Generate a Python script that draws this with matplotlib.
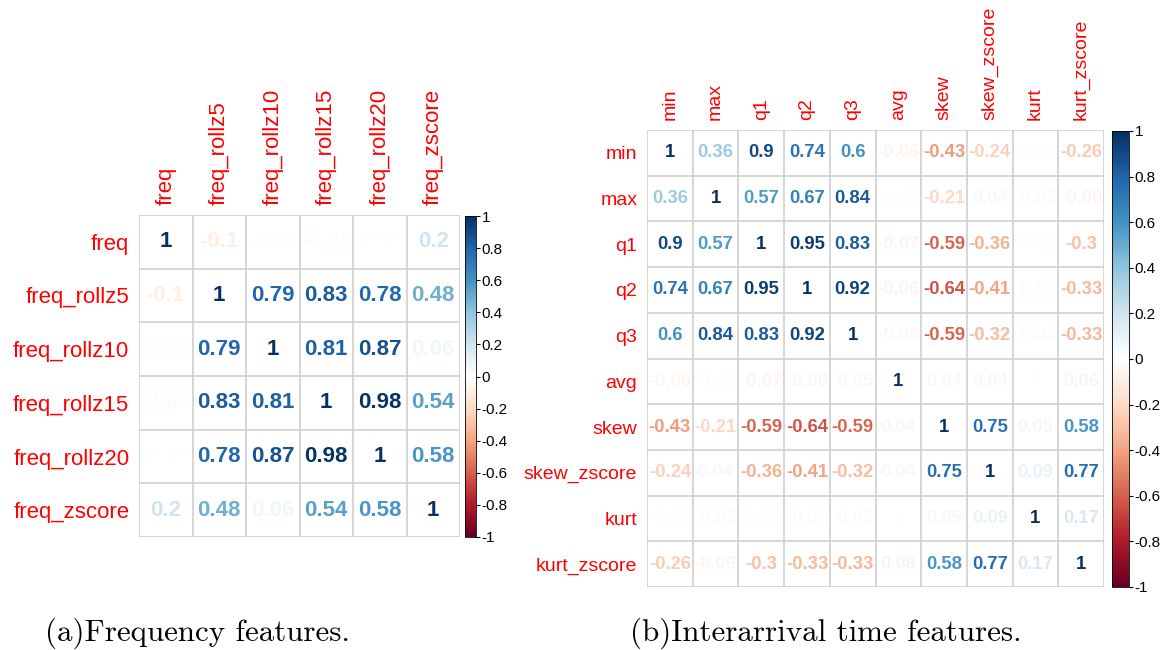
import numpy as np
import matplotlib
matplotlib.use("Agg")
import matplotlib.pyplot as plt
from matplotlib.colors import LinearSegmentedColormap, Normalize
from matplotlib.colorbar import ColorbarBase

# Frequency feature correlations
freq_labels = ["freq", "freq_rollz5", "freq_rollz10", "freq_rollz15",
               "freq_rollz20", "freq_zscore"]
freq_corr = [
    [1, -0.1, -0.02, -0.03, -0.01, 0.2],
    [-0.1, 1, 0.79, 0.83, 0.78, 0.48],
    [-0.02, 0.79, 1, 0.81, 0.87, 0.06],
    [-0.03, 0.83, 0.81, 1, 0.98, 0.54],
    [-0.01, 0.78, 0.87, 0.98, 1, 0.58],
    [0.2, 0.48, 0.06, 0.54, 0.58, 1],
]

# Interarrival time feature correlations
iat_labels = ["min", "max", "q1", "q2", "q3", "avg", "skew", "skew_zscore",
              "kurt", "kurt_zscore"]
iat_corr = [
    [1, 0.36, 0.9, 0.74, 0.6, -0.06, -0.43, -0.24, -0.02, -0.26],
    [0.36, 1, 0.57, 0.67, 0.84, -0.02, -0.21, 0.04, -0.03, -0.06],
    [0.9, 0.57, 1, 0.95, 0.83, -0.07, -0.59, -0.36, -0.02, -0.3],
    [0.74, 0.67, 0.95, 1, 0.92, -0.06, -0.64, -0.41, -0.03, -0.33],
    [0.6, 0.84, 0.83, 0.92, 1, -0.05, -0.59, -0.32, -0.03, -0.33],
    [-0.06, -0.02, -0.07, -0.06, -0.05, 1, 0.04, 0.04, 0, 0.06],
    [-0.43, -0.21, -0.59, -0.64, -0.59, 0.04, 1, 0.75, 0.05, 0.58],
    [-0.24, 0.04, -0.36, -0.41, -0.32, 0.04, 0.75, 1, 0.09, 0.77],
    [-0.02, -0.03, -0.02, -0.03, -0.03, 0, 0.05, 0.09, 1, 0.17],
    [-0.26, -0.06, -0.3, -0.33, -0.33, 0.06, 0.58, 0.77, 0.17, 1],
]

cbar_ticks = [-1, -0.8, -0.6, -0.4, -0.2, 0, 0.2, 0.4, 0.6, 0.8, 1]
captions = ["(a)Frequency features.", "(b)Interarrival time features."]

rdbu = LinearSegmentedColormap.from_list(
    "corr_rdbu",
    ["#67001F", "#B2182B", "#D6604D", "#F4A582", "#FDDBC7", "#FFFFFF",
     "#D1E5F0", "#92C5DE", "#4393C3", "#2166AC", "#053061"], N=200)
norm = Normalize(-1, 1)

W, H = 1171, 650
fig = plt.figure(figsize=(W / 100, H / 100), dpi=100)


def px_axes(x0, y0, x1, y1):
    return fig.add_axes([x0 / W, 1 - y1 / H, (x1 - x0) / W, (y1 - y0) / H])


def corr_panel(box, cbox, labels, corr, num_size, lab_size):
    ax = px_axes(*box)
    n = len(labels)
    m = np.array(corr, dtype=float)
    ax.set_xlim(-0.5, n - 0.5)
    ax.set_ylim(n - 0.5, -0.5)
    for i in range(n):
        for j in range(n):
            v = m[i, j]
            ax.text(j, i, f"{v:g}", ha="center", va="center",
                    fontsize=num_size, fontweight="bold",
                    family="Liberation Sans", color=rdbu(norm(v)))
    for k in range(n + 1):
        ax.axhline(k - 0.5, color="#CFCFCF", lw=1.2, zorder=0)
        ax.axvline(k - 0.5, color="#CFCFCF", lw=1.2, zorder=0)
    for s in ax.spines.values():
        s.set_visible(False)
    ax.set_xticks(range(n))
    ax.set_xticklabels(labels, rotation=90, color="red",
                       fontsize=lab_size, family="Liberation Sans")
    ax.xaxis.tick_top()
    ax.set_yticks(range(n))
    ax.set_yticklabels(labels, color="red", fontsize=lab_size,
                       family="Liberation Sans")
    ax.tick_params(length=0, pad=7)

    cax = px_axes(*cbox)
    cb = ColorbarBase(cax, cmap=rdbu, norm=norm, orientation="vertical",
                      ticks=cbar_ticks)
    cb.outline.set_linewidth(0.6)
    cb.ax.set_yticklabels([f"{t:g}" for t in cbar_ticks])
    cax.tick_params(labelsize=11, length=3, width=0.8, pad=1)
    for t in cax.get_yticklabels():
        t.set_family("Liberation Sans")
    return ax


corr_panel((139, 215, 460, 537), (465, 216, 476, 537),
           freq_labels, freq_corr, 16, 16)
corr_panel((647, 130, 1104, 587), (1112, 131, 1129, 587),
           iat_labels, iat_corr, 13.3, 14)

fig.text(45 / W, 1 - 633 / H, captions[0], family="cmr10", fontsize=22.3,
         va="center", ha="left")
fig.text(630 / W, 1 - 633 / H, captions[1], family="cmr10", fontsize=22.3,
         va="center", ha="left")

fig.savefig("out.png", dpi=100, facecolor="white")
